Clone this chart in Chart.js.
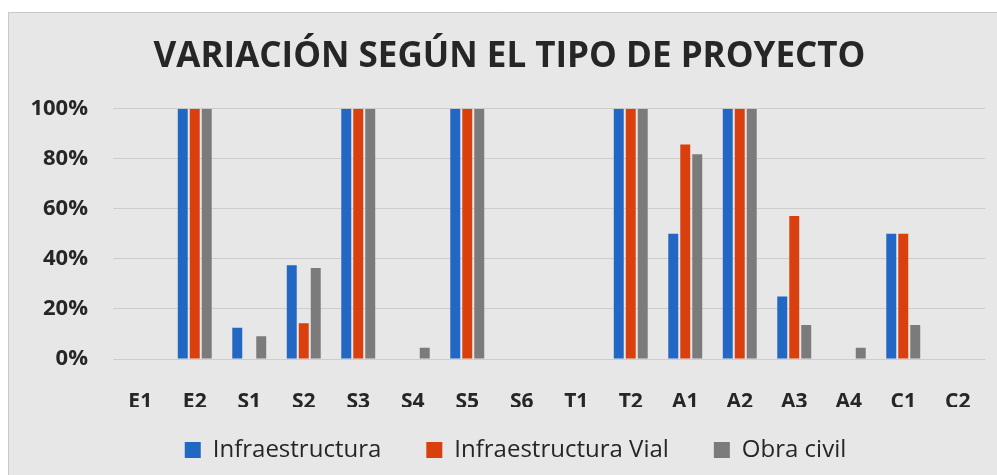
<!DOCTYPE html>
<html>
<head>
<meta charset="utf-8">
<script src="https://cdn.jsdelivr.net/npm/chart.js@4.4.1/dist/chart.umd.min.js"></script>
<style>
  html, body { margin: 0; padding: 0; background: #ffffff; }
  #wrap { width: 997px; height: 475px; position: relative; }
</style>
</head>
<body>
<div id="wrap"><canvas id="variacionChart"></canvas></div>
<script>
// --- datos ---
const categorias = ['E1', 'E2', 'S1', 'S2', 'S3', 'S4', 'S5', 'S6', 'T1', 'T2', 'A1', 'A2', 'A3', 'A4', 'C1', 'C2'];
const infraestructura = [0, 100, 12.5, 37.5, 100, 0, 100, 0, 0, 100, 50, 100, 25, 0, 50, 0];
const infraestructuraVial = [0, 100, 0, 14.3, 100, 0, 100, 0, 0, 100, 85.7, 100, 57.1, 0, 50, 0];
const obraCivil = [0, 100, 9.1, 36.4, 100, 4.5, 100, 0, 0, 100, 81.8, 100, 13.6, 4.5, 13.6, 0];
const ticksY = [0, 20, 40, 60, 80, 100];

const fuente = "'Open Sans', 'Liberation Sans', sans-serif";
const textoOscuro = '#262626';
const fuenteLeyenda = 24;
const espacioLeyenda = 45;

// fondo gris con marco, como el grafico original
const fondoPlugin = {
    id: 'fondo',
    beforeDraw(chart) {
        const ctx = chart.ctx;
        ctx.save();
        ctx.fillStyle = '#ffffff';
        ctx.fillRect(0, 0, chart.width, chart.height);
        ctx.fillStyle = '#e7e7e7';
        ctx.fillRect(8, 12, chart.width, chart.height);
        ctx.strokeStyle = '#c9c9c9';
        ctx.lineWidth = 1;
        ctx.beginPath();
        ctx.moveTo(8.5, chart.height);
        ctx.lineTo(8.5, 12.5);
        ctx.lineTo(chart.width, 12.5);
        ctx.stroke();
        ctx.restore();
    }
};

// acomoda titulo y leyenda (la leyenda va justo debajo de las etiquetas del eje X)
const ajustePlugin = {
    id: 'ajuste',
    afterLayout(chart) {
        const tb = chart.titleBlock;
        if (tb) tb.left += 34;
        const lg = chart.legend;
        if (!lg) return;
        lg.top = 450 - espacioLeyenda - fuenteLeyenda / 2;
        lg.bottom = chart.height;
        lg.height = lg.bottom - lg.top;
        lg.left += 46;
    }
};

const ctx = document.getElementById('variacionChart');
new Chart(ctx, {
    type: 'bar',
    data: {
        labels: categorias,
        datasets: [
            { label: 'Infraestructura', data: infraestructura, backgroundColor: '#2167c3' },
            { label: 'Infraestructura Vial', data: infraestructuraVial, backgroundColor: '#d9400e' },
            { label: 'Obra civil', data: obraCivil, backgroundColor: '#7b7b7b' }
        ]
    },
    options: {
        responsive: true,
        maintainAspectRatio: false,
        animation: false,
        layout: { padding: { left: 0, right: 12, top: 0, bottom: 8 } },
        datasets: {
            bar: { categoryPercentage: 0.66, barPercentage: 0.83 }
        },
        plugins: {
            title: {
                display: true,
                text: 'VARIACIÓN SEGÚN EL TIPO DE PROYECTO',
                color: textoOscuro,
                font: { family: fuente, size: 35, weight: 'bold' },
                padding: { top: 36, bottom: 30.7 }
            },
            legend: {
                position: 'bottom',
                maxHeight: 60,
                labels: {
                    color: textoOscuro,
                    font: { family: fuente, size: fuenteLeyenda },
                    boxWidth: 16,
                    boxHeight: 16,
                    padding: espacioLeyenda
                }
            },
            tooltip: { enabled: false }
        },
        scales: {
            x: {
                grid: { display: false },
                border: { display: false },
                ticks: {
                    color: textoOscuro,
                    font: { family: fuente, size: 21, weight: 'bold' },
                    padding: 22,
                    maxRotation: 0,
                    autoSkip: false
                },
                afterFit(scale) { scale.height = 48; }
            },
            y: {
                min: 0,
                max: 100,
                grid: { color: '#cdcdcd', drawTicks: false },
                border: { display: false },
                afterBuildTicks(scale) {
                    scale.ticks = ticksY.map(v => ({ value: v }));
                },
                ticks: {
                    color: textoOscuro,
                    font: { family: fuente, size: 22, weight: 'bold' },
                    padding: 25,
                    callback: v => v + '%'
                },
                afterFit(scale) { scale.width = 113; }
            }
        }
    },
    plugins: [fondoPlugin, ajustePlugin]
});
</script>
</body>
</html>
